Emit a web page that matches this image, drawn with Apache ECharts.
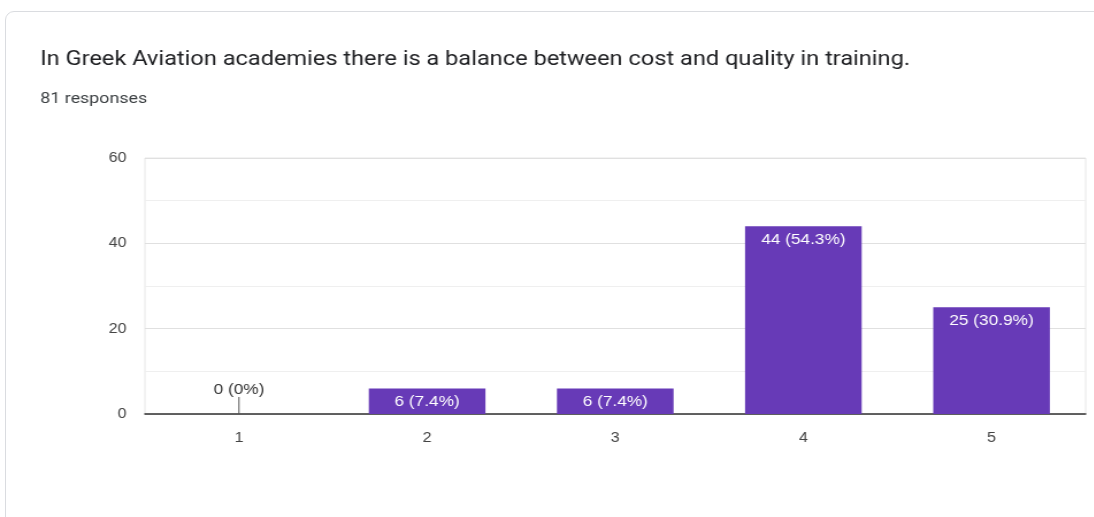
<!DOCTYPE html>
<html>
<head>
<meta charset="utf-8">
<script src="https://cdn.jsdelivr.net/npm/echarts@6/dist/echarts.min.js"></script>
<style>
  html, body { margin: 0; padding: 0; background: #fff; overflow: hidden; }
  #card {
    position: absolute; left: 5px; top: 11px; width: 1120px; height: 540px;
    border: 1px solid #dadce0; border-radius: 9px; box-sizing: border-box;
  }
  /* the chart is laid out narrower and widened horizontally */
  #chart {
    position: absolute; left: 0; top: 0; width: 951px; height: 517px;
    transform: scaleX(1.15); transform-origin: 0 0;
  }
</style>
</head>
<body>
<div id="card"></div>
<div id="chart"></div>
<script>
const questionTitle = 'In Greek Aviation academies there is a balance between cost and quality in training.';
const responseCount = 81;
const categories = ['1', '2', '3', '4', '5'];
const counts = [0, 6, 6, 44, 25];
const yTicks = [0, 20, 40, 60];

const pct = v => {
  const p = Math.round(v / responseCount * 1000) / 10;
  return (Number.isInteger(p) ? p.toFixed(0) : p.toFixed(1)) + '%';
};
const labelText = v => v + ' (' + pct(v) + ')';

const chart = echarts.init(document.getElementById('chart'), null, { renderer: 'canvas' });

const headFont = 'Roboto, "Noto Sans", Arial, sans-serif';
const chartFont = '"Liberation Sans", Arial, sans-serif';

chart.setOption({
  animation: false,
  textStyle: { fontFamily: chartFont },
  title: [
    {
      text: questionTitle, left: 35, top: 49, padding: 0,
      textStyle: { fontSize: 20.5, fontWeight: 'normal', color: '#202124', fontFamily: headFont }
    },
    {
      text: responseCount + ' responses', left: 35, top: 91, padding: 0,
      textStyle: { fontSize: 15.5, fontWeight: 'normal', color: '#3c4043', fontFamily: headFont }
    }
  ],
  grid: {
    left: 126, right: 7, top: 158, bottom: 103,
    show: true, borderColor: '#e6e6e6', borderWidth: 1
  },
  xAxis: {
    type: 'category',
    data: categories,
    axisTick: { show: false },
    axisLine: { lineStyle: { color: '#333', width: 1.5 } },
    axisLabel: { color: '#444', fontSize: 14, margin: 17, fontFamily: chartFont }
  },
  yAxis: {
    type: 'value',
    min: yTicks[0], max: yTicks[yTicks.length - 1], interval: yTicks[1] - yTicks[0],
    axisLine: { show: false },
    axisTick: { show: false },
    axisLabel: { color: '#444', fontSize: 14, margin: 16, fontFamily: chartFont },
    splitLine: { lineStyle: { color: '#e0e0e0' } },
    minorTick: { show: false, splitNumber: 2 },
    minorSplitLine: { show: true, lineStyle: { color: '#efefef' } }
  },
  series: [
    {
      type: 'bar',
      data: counts,
      barCategoryGap: '38%',
      itemStyle: { color: '#673ab7' },
      label: {
        show: true,
        position: 'insideTop',
        distance: 6,
        color: '#fff',
        fontSize: 15,
        fontFamily: chartFont,
        formatter: p => p.value > 0 ? labelText(p.value) : ''
      },
      z: 2
    },
    {
      // zero-height bars get their label above a short stem
      type: 'custom',
      data: counts.map((v, i) => [i, v]),
      renderItem: (params, api) => {
        const v = api.value(1);
        if (v !== 0) return null;
        const base = api.coord([api.value(0), 0]);
        return {
          type: 'group',
          children: [
            {
              type: 'line',
              shape: { x1: base[0], y1: base[1], x2: base[0], y2: base[1] - 17 },
              style: { stroke: '#555', lineWidth: 1 }
            },
            {
              type: 'text',
              x: base[0], y: base[1] - 17,
              style: {
                text: labelText(v), fill: '#333', fontSize: 15, fontFamily: chartFont,
                align: 'center', verticalAlign: 'bottom'
              }
            }
          ]
        };
      },
      z: 3
    }
  ]
});
</script>
</body>
</html>
